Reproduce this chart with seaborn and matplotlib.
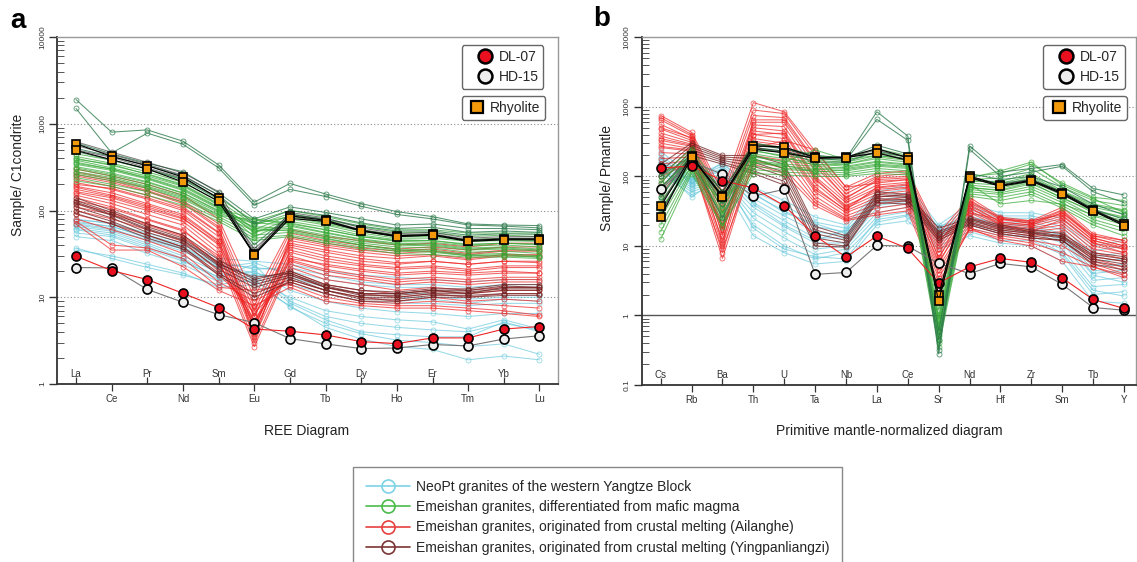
import numpy as np
import pandas as pd
import matplotlib
matplotlib.use("Agg")
import matplotlib.pyplot as plt
import seaborn as sns
from matplotlib.lines import Line2D
from matplotlib.ticker import FixedLocator, NullFormatter, FuncFormatter, LogLocator

sns.set_style("ticks")
plt.rcParams['font.family'] = ['Liberation Sans', 'DejaVu Sans']

# ---------------------------------------------------------------- data
REE = ["La", "Ce", "Pr", "Nd", "Sm", "Eu", "Gd", "Tb", "Dy", "Ho", "Er", "Tm", "Yb", "Lu"]
SPIDER = ["Cs", "Rb", "Ba", "Th", "U", "Ta", "Nb", "La", "Ce", "Sr", "Nd", "Hf", "Zr", "Sm", "Tb", "Y"]

# --- panel a : chondrite-normalised REE
ree_neopt = [
    [80, 70, 55, 42, 28, 26, 24, 20, 18, 17, 16, 15, 16, 16],
    [75, 65, 50, 38, 24, 22, 20, 16, 14, 13, 13, 12, 13, 13],
    [70, 62, 45, 34, 22, 18, 17, 13, 11, 10, 10, 9.5, 10, 10],
    [65, 58, 42, 30, 19, 16, 14, 11, 9, 8.5, 8.5, 8, 8.5, 8.5],
    [62, 55, 40, 28, 17, 20, 12, 9, 7.5, 6.8, 6.5, 6, 6.5, 6.5],
    [60, 52, 38, 27, 16, 15, 10, 7, 6, 5.5, 5.2, 4.3, 5.5, 4.3],
    [55, 50, 36, 26, 17, 24, 9, 6, 5, 4.5, 4.2, 4, 5, 4.2],
    [50, 45, 32, 24, 15, 18, 8.6, 5.5, 4, 3.7, 3.5, 3.5, 5.2, 4],
    [37, 28, 22, 18, 14, 16, 7.7, 5, 3.8, 3.2, 3, 2.7, 2.9, 2.2],
    [35, 30, 24, 19, 13, 14, 8, 4.5, 3.3, 2.7, 2.5, 1.9, 2.1, 1.9],
    [78, 72, 52, 40, 26, 21, 22, 18, 15, 14, 14, 13, 14, 14],
    [68, 60, 46, 36, 22, 25, 18, 14, 12, 11, 11, 10, 11, 11],
    [72, 66, 48, 37, 23, 19, 16, 12, 10, 9, 9.5, 8.5, 9.5, 9],
]
ree_mafic = [
    [450, 380, 300, 230, 140, 75, 100, 85, 70, 60, 60, 55, 55, 55],
    [420, 350, 280, 210, 130, 68, 92, 78, 65, 56, 56, 50, 52, 50],
    [400, 330, 265, 200, 120, 60, 88, 72, 60, 52, 52, 46, 48, 46],
    [380, 310, 250, 190, 115, 55, 80, 68, 55, 48, 48, 44, 45, 44],
    [360, 300, 240, 180, 110, 50, 75, 64, 52, 46, 45, 41, 42, 40],
    [340, 290, 230, 170, 105, 80, 72, 60, 50, 44, 43, 39, 40, 38],
    [320, 270, 215, 160, 100, 72, 68, 56, 47, 42, 41, 37, 38, 36],
    [300, 250, 200, 150, 95, 65, 62, 52, 44, 40, 39, 35, 36, 34],
    [280, 240, 190, 145, 90, 58, 60, 50, 42, 38, 37, 33, 34, 32],
    [260, 220, 180, 135, 85, 52, 56, 47, 40, 36, 35, 31, 32, 30],
    [240, 200, 165, 125, 80, 48, 52, 44, 38, 34, 33, 30, 30, 29],
    [220, 190, 150, 115, 75, 45, 50, 42, 36, 32, 31, 29, 29, 28],
    [390, 340, 260, 195, 118, 62, 58, 48, 40, 35, 34, 30, 31, 29],
    [350, 300, 235, 175, 108, 58, 66, 55, 46, 41, 40, 36, 37, 35],
    [310, 260, 210, 158, 98, 70, 85, 70, 58, 50, 50, 45, 46, 45],
    [270, 230, 185, 140, 88, 78, 70, 60, 50, 45, 45, 40, 42, 41],
]
ree_mafic_dark = [
    [1900, 800, 850, 630, 335, 125, 205, 155, 120, 97, 85, 70, 68, 67],
    [1500, 460, 780, 580, 310, 115, 175, 145, 112, 90, 80, 68, 66, 63],
    [600, 450, 350, 280, 160, 80, 110, 95, 80, 68, 70, 62, 62, 60],
    [520, 420, 330, 250, 150, 70, 100, 88, 72, 62, 64, 56, 58, 56],
    [480, 380, 300, 225, 135, 40, 90, 80, 66, 58, 58, 52, 54, 53],
]
ree_dark = [
    [620, 470, 360, 270, 165, 33, 95, 82, 63, 54, 56, 48, 50, 50],
    [560, 440, 340, 255, 150, 30, 90, 78, 60, 52, 54, 46, 48, 48],
    [500, 410, 310, 235, 140, 36, 86, 75, 58, 50, 52, 45, 47, 47],
]
ree_ailanghe = [
    [300, 250, 200, 150, 80, 10, 60, 50, 45, 40, 42, 38, 42, 42],
    [280, 230, 180, 130, 70, 8, 55, 45, 40, 36, 38, 35, 38, 38],
    [250, 210, 165, 120, 62, 7, 48, 40, 35, 32, 34, 31, 34, 34],
    [230, 190, 150, 110, 56, 6, 42, 35, 30, 28, 30, 27, 30, 30],
    [210, 175, 135, 100, 50, 5, 38, 30, 26, 24, 26, 24, 26, 26],
    [190, 160, 120, 90, 45, 4.5, 33, 26, 23, 21, 22, 20, 22, 22],
    [175, 145, 110, 82, 40, 4, 30, 23, 20, 18, 19, 18, 19, 19],
    [160, 130, 100, 75, 36, 3.5, 27, 21, 18, 16, 17, 16, 17, 17],
    [150, 120, 90, 68, 32, 3, 24, 18, 16, 14, 15, 14, 15, 15],
    [140, 110, 80, 60, 28, 2.7, 22, 16, 14, 12, 13, 12, 13, 13],
    [120, 95, 70, 52, 24, 5.5, 20, 14, 12, 11, 12, 11, 12, 12],
    [100, 80, 60, 44, 20, 6.5, 18, 13, 11, 10, 11, 10, 11, 11],
    [90, 70, 52, 38, 18, 7.5, 16, 12, 10, 9, 10, 9, 9.5, 9],
    [80, 60, 45, 32, 15, 9, 15, 11, 9, 8.5, 9, 8.5, 8, 7.5],
    [75, 40, 37, 28, 13, 12, 14, 10, 8.5, 8, 8, 7.5, 7, 6.2],
    [70, 35, 35, 22.5, 12, 8, 13, 9, 8, 7.5, 7.5, 7, 6.5, 6],
    [200, 180, 140, 105, 55, 4.2, 45, 38, 33, 30, 31, 28, 31, 31],
    [260, 220, 170, 125, 65, 3.2, 50, 42, 37, 34, 36, 32, 35, 35],
    [165, 140, 105, 80, 42, 3.8, 35, 28, 24, 22, 23, 21, 23, 23],
    [130, 105, 78, 58, 30, 5, 26, 20, 17, 15, 16, 15, 16, 16],
    [110, 90, 68, 50, 25, 4.8, 28, 24, 21, 19, 20, 19, 20, 19],
    [185, 150, 115, 86, 44, 6, 40, 33, 28, 25, 26, 24, 26, 25],
]
ree_yingpan = [
    [140, 100, 70, 52, 27, 16, 20, 14, 12, 11.5, 12.5, 12.5, 14, 14],
    [130, 95, 65, 48, 25, 15, 19, 13.5, 11, 11, 12, 12, 13.5, 13],
    [120, 88, 60, 45, 23, 14, 18, 13, 10.5, 10.5, 11.5, 11.5, 12.5, 12.5],
    [110, 82, 56, 42, 21, 13, 17, 12, 10, 10, 11, 11, 12, 12],
    [100, 75, 52, 38, 19, 11, 16, 12, 9.5, 9.5, 10.5, 10.5, 11, 11],
    [92, 70, 48, 36, 18, 10, 15, 11, 9, 9, 10, 10, 10.5, 10.5],
    [125, 90, 62, 46, 24, 17, 19, 13, 11, 11, 12, 11, 13, 13],
]
ree_rhyolite = [
    [588, 420, 328, 243, 138, 31.6, 87, 77, 59, 51, 53, 45, 47, 47],
    [492, 385, 301, 213, 127, 31, 81, 75, 58, 50, 52, 44, 46, 46],
]
ree_dl07 = [29.7, 20.3, 16, 11.1, 7.6, 4.3, 4.06, 3.68, 3.08, 2.92, 3.4, 3.4, 4.3, 4.6]
ree_hd15 = [22, 21.8, 12.3, 8.75, 6.3, 5.1, 3.34, 2.9, 2.56, 2.6, 2.85, 2.75, 3.3, 3.6]

# --- panel b : primitive-mantle normalised spider diagram
sp_neopt = [
    [230, 100, 150, 70, 45, 26, 20, 60, 75, 20, 40, 30, 30, 25, 10, 12],
    [200, 95, 140, 62, 38, 22, 18, 55, 66, 18, 36, 27, 27, 22, 8.5, 10],
    [180, 90, 130, 55, 32, 19, 16, 50, 58, 16, 33, 25, 25, 19, 7, 8],
    [160, 85, 120, 48, 27, 16, 14, 45, 52, 15, 30, 22, 22, 17, 6, 6.5],
    [150, 80, 110, 42, 23, 13, 13, 40, 46, 14, 27, 20, 20, 15, 5, 5.5],
    [140, 75, 100, 36, 19, 11, 11, 35, 41, 13, 24, 18, 18, 13, 4, 4.5],
    [130, 70, 95, 30, 16, 9, 10, 30, 36, 12, 21, 16, 16, 11, 3.2, 3.5],
    [125, 65, 90, 25, 13, 7.5, 9, 26, 31, 11, 18, 14, 14, 9, 2.6, 2.8],
    [120, 60, 85, 20, 10, 6.5, 8, 22, 27, 10, 16, 12, 12, 7.5, 2, 2.2],
    [110, 55, 80, 14, 8, 5.5, 6, 20, 23, 9, 14, 11, 10, 6, 1.6, 1.5],
    [135, 50, 105, 18, 9, 7, 6.5, 24, 28, 17, 20, 15, 13, 8, 2.3, 1.9],
    [190, 78, 160, 58, 30, 21, 15, 42, 48, 19, 26, 21, 19, 14, 4.5, 4],
    [165, 88, 125, 40, 20, 12, 17, 38, 44, 15, 25, 19, 17, 12, 3.8, 3],
]
sp_mafic = [
    [100, 250, 60, 300, 250, 200, 180, 250, 200, 1.5, 100, 110, 150, 80, 50, 45],
    [80, 230, 50, 260, 220, 180, 170, 220, 190, 1.2, 90, 95, 130, 70, 45, 38],
    [60, 210, 45, 230, 200, 170, 160, 200, 175, 1.0, 85, 85, 110, 62, 40, 33],
    [50, 190, 40, 210, 180, 160, 150, 180, 160, 0.85, 80, 75, 95, 58, 36, 29],
    [40, 175, 35, 190, 165, 150, 140, 165, 150, 0.7, 75, 68, 85, 54, 33, 26],
    [32, 160, 30, 170, 150, 140, 130, 150, 140, 0.6, 70, 62, 78, 50, 30, 23],
    [25, 145, 26, 155, 140, 130, 120, 140, 130, 0.5, 65, 58, 72, 46, 27, 20],
    [20, 130, 23, 140, 125, 120, 112, 130, 120, 0.45, 60, 55, 66, 42, 24, 18],
    [16, 120, 20, 125, 115, 110, 105, 120, 112, 0.4, 56, 50, 60, 38, 22, 16],
    [12.5, 110, 19, 110, 105, 100, 100, 110, 105, 0.35, 52, 45, 55, 35, 20, 14],
    [70, 180, 55, 200, 160, 240, 175, 200, 180, 0.9, 95, 120, 160, 75, 48, 30],
    [45, 150, 28, 180, 130, 125, 135, 160, 145, 0.55, 78, 40, 45, 40, 28, 22],
    [90, 200, 33, 240, 190, 145, 150, 190, 170, 0.75, 88, 80, 100, 60, 38, 32],
    [35, 135, 42, 160, 145, 115, 125, 145, 135, 0.65, 68, 64, 82, 48, 32, 25],
]
sp_mafic_dark = [
    [100, 200, 60, 280, 250, 190, 180, 850, 380, 0.32, 275, 115, 130, 148, 67, 54],
    [70, 190, 50, 260, 230, 180, 170, 660, 330, 0.28, 245, 100, 115, 140, 60, 42],
    [50, 210, 40, 300, 260, 200, 185, 280, 210, 0.6, 110, 90, 100, 70, 40, 28],
    [30, 180, 25, 250, 220, 160, 160, 230, 190, 0.45, 95, 80, 90, 60, 34, 24],
]
sp_dark = [
    [40, 210, 60, 290, 250, 185, 185, 240, 185, 1.8, 100, 76, 90, 60, 34, 21],
    [28, 195, 50, 260, 230, 180, 190, 220, 175, 1.6, 95, 72, 85, 55, 32, 20],
]
sp_ailanghe = [
    [750, 430, 60, 1150, 850, 230, 70, 110, 120, 15, 50, 26, 23, 36, 15, 12],
    [700, 400, 50, 900, 800, 200, 62, 100, 110, 13, 46, 25, 22, 33, 14, 11],
    [650, 380, 42, 750, 700, 170, 56, 95, 100, 11, 42, 24, 21, 30, 13, 10],
    [560, 350, 36, 600, 600, 140, 50, 85, 90, 10, 38, 22, 20, 27, 12, 9.5],
    [480, 330, 30, 550, 520, 120, 45, 75, 82, 9, 35, 21, 19, 25, 11, 9],
    [420, 310, 25, 500, 450, 100, 42, 68, 75, 8, 32, 20, 18, 22, 10, 8],
    [380, 290, 20, 450, 400, 90, 38, 60, 68, 7, 30, 19, 17, 20, 9, 7.5],
    [330, 270, 17, 400, 350, 80, 35, 55, 62, 6, 27, 18, 16, 18, 8, 6.5],
    [300, 250, 15, 350, 300, 70, 32, 50, 56, 5, 25, 17, 15, 16, 7, 6],
    [260, 230, 12, 300, 260, 60, 30, 45, 50, 4.5, 22, 16, 14, 14, 6.5, 5],
    [220, 210, 10, 250, 220, 52, 27, 40, 45, 4, 20, 15, 13, 12, 6, 4.5],
    [180, 190, 8, 200, 170, 46, 25, 35, 40, 3.5, 18, 14, 12, 10, 5.5, 4],
    [150, 170, 6.6, 170, 130, 42, 24, 30, 36, 3, 17, 13, 11, 8, 5, 3.5],
    [120, 150, 9, 150, 110, 38, 23, 28, 32, 2.5, 18, 12, 10, 6, 5, 3.8],
    [100, 160, 20, 250, 330, 240, 70, 80, 90, 2, 40, 22, 20, 30, 14, 12],
    [500, 360, 14, 650, 650, 160, 48, 90, 95, 6.5, 44, 25, 21, 32, 13, 10],
    [350, 280, 11, 400, 420, 95, 36, 65, 70, 5.5, 36, 20, 16, 24, 11, 8],
    [270, 240, 18, 320, 280, 65, 33, 70, 78, 12, 30, 24, 23, 28, 12, 9],
]
sp_yingpan = [
    [150, 300, 200, 200, 150, 19, 14, 60, 55, 18, 25, 20, 17, 15, 8, 7],
    [120, 280, 190, 180, 130, 17, 13, 55, 52, 16, 24, 19, 16, 14, 7.5, 6.5],
    [100, 260, 180, 160, 115, 15, 12, 52, 50, 15, 23, 18, 15.5, 13.5, 7, 6],
    [80, 240, 170, 140, 100, 13, 11, 48, 46, 14, 22, 17, 15, 13, 6.5, 5.5],
    [65, 220, 160, 120, 85, 11, 10, 45, 44, 13, 21, 16, 14, 12, 6, 5],
    [55, 200, 150, 110, 75, 10, 9.6, 42, 40, 12, 20, 15, 13, 12, 5.5, 4.5],
]
sp_rhyolite = [
    [37, 197, 52, 274, 265, 187, 190, 250, 187, 1.96, 101, 74, 88, 58, 33, 20.5],
    [26, 190, 50, 246, 218, 182, 186, 217, 170, 1.6, 96, 72, 86, 56, 32, 19.5],
]
sp_dl07 = [132, 141, 87, 68, 38, 14, 6.9, 13.9, 9.2, 2.94, 5.0, 6.6, 5.8, 3.47, 1.7, 1.26]
sp_hd15 = [65, 163, 107, 52, 65, 3.9, 4.15, 10.2, 9.9, 5.6, 4.0, 5.6, 5.0, 2.8, 1.3, 1.19]

GROUP_LABELS = [
    "NeoPt granites of the western Yangtze Block",
    "Emeishan granites, differentiated from mafic magma",
    "Emeishan granites, originated from crustal melting (Ailanghe)",
    "Emeishan granites, originated from crustal melting (Yingpanliangzi)",
]

# ---------------------------------------------------------------- styles
C_CYAN = "#62c6da"
C_GREEN = "#34a834"
C_DGREEN = "#2d7a4c"
C_RED = "#ee2424"
C_MAROON = "#6e2222"
C_DARK = "#2a2a2a"
C_ORANGE = "#f39a0c"
W, H = 1137, 562


def to_long(rows):
    recs = []
    for i, row in enumerate(rows):
        for j, v in enumerate(row):
            recs.append((i, j, v))
    return pd.DataFrame(recs, columns=["sample", "pos", "value"])


def draw_group(ax, rows, color, alpha, z, lw=0.75, ms=3.6):
    df = to_long(rows)
    sns.lineplot(data=df, x="pos", y="value", units="sample", estimator=None,
                 sort=False, ax=ax, color=color, alpha=alpha, lw=lw,
                 marker="o", markersize=ms, markerfacecolor="none",
                 markeredgecolor=color, markeredgewidth=0.6,
                 legend=False, zorder=z)


def draw_sample(ax, values, lcolor, fcolor, marker, ms, z):
    df = pd.DataFrame({"pos": np.arange(len(values)), "value": values})
    sns.lineplot(data=df, x="pos", y="value", estimator=None, sort=False, ax=ax,
                 color=lcolor, lw=0.8, marker=marker, markersize=ms,
                 markerfacecolor=fcolor, markeredgecolor="black",
                 markeredgewidth=1.2, legend=False, zorder=z)


def style_axes(ax, elements, ylo, yhi, xlim, solid_one=False):
    ax.set_yscale("log")
    ax.set_ylim(ylo, yhi)
    ax.set_xlim(*xlim)
    majors = [10.0 ** k for k in range(int(np.log10(ylo)), int(np.log10(yhi)) + 1)]
    ax.yaxis.set_major_locator(FixedLocator(majors))
    ax.yaxis.set_minor_locator(LogLocator(base=10, subs=np.arange(2, 10), numticks=30))
    ax.yaxis.set_major_formatter(FuncFormatter(lambda v, p: f"{v:g}"))
    ax.yaxis.set_minor_formatter(NullFormatter())
    ax.tick_params(axis="y", which="major", direction="out", length=6, width=1.0,
                   pad=2, labelsize=6, labelrotation=90, colors="#333333")
    ax.tick_params(axis="y", which="minor", direction="in", length=5, width=0.7,
                   colors="#555555")
    for lab in ax.get_yticklabels():
        lab.set_va("center")
    n = len(elements)
    odd = list(range(1, n, 2))
    even = list(range(0, n, 2))
    ax.set_xticks(odd, [elements[i] for i in odd])
    ax.set_xticks(even, [elements[i] for i in even], minor=True)
    ax.tick_params(axis="x", which="major", direction="out", length=5, width=0.9,
                   pad=2.5, labelsize=7, colors="#333333")
    ax.tick_params(axis="x", which="minor", direction="in", length=5, width=0.9,
                   pad=-11, labelsize=7, colors="#333333")
    for v in [10, 100, 1000]:
        ax.axhline(v, color="#888888", lw=0.8, ls=(0, (1, 2)), zorder=0.5)
    if solid_one:
        ax.axhline(1, color="#555555", lw=1.0, zorder=0.5)
    for s in ["left", "bottom"]:
        ax.spines[s].set_color("#333333")
        ax.spines[s].set_linewidth(1.3)
    for s in ["top", "right"]:
        ax.spines[s].set_color("#999999")
        ax.spines[s].set_linewidth(1.0)
    ax.set_xlabel("")
    ax.set_ylabel("")


def sample_legends(ax, x0, y_top1, y_top2):
    h1 = [Line2D([], [], ls="none", marker="o", markersize=10, markerfacecolor="#e8101e",
                 markeredgecolor="black", markeredgewidth=1.8),
          Line2D([], [], ls="none", marker="o", markersize=10, markerfacecolor="#eeeeee",
                 markeredgecolor="black", markeredgewidth=1.8)]
    leg1 = ax.legend(h1, ["DL-07", "HD-15"], loc="upper left", bbox_to_anchor=(x0, y_top1),
                     borderaxespad=0, fontsize=10, handlelength=2.6, handletextpad=-0.3,
                     borderpad=0.35, labelspacing=0.45, fancybox=True,
                     edgecolor="#666666", framealpha=1)
    leg1.get_frame().set_linewidth(1.0)
    leg1.set_zorder(20)
    ax.add_artist(leg1)
    h2 = [Line2D([], [], ls="none", marker="s", markersize=8, markerfacecolor=C_ORANGE,
                 markeredgecolor="black", markeredgewidth=1.6)]
    leg2 = ax.legend(h2, ["Rhyolite"], loc="upper left", bbox_to_anchor=(x0, y_top2),
                     borderaxespad=0, fontsize=10, handlelength=1.55, handletextpad=0.15,
                     borderpad=0.35, fancybox=True, edgecolor="#666666", framealpha=1)
    leg2.get_frame().set_linewidth(1.0)
    leg2.set_zorder(20)


# ---------------------------------------------------------------- figure
fig = plt.figure(figsize=(W / 100, H / 100), dpi=100)
ax_a = fig.add_axes([57.3 / W, 1 - 384 / H, (558 - 57.3) / W, (384 - 37) / H])
ax_b = fig.add_axes([641.7 / W, 1 - 385 / H, (1136 - 641.7) / W, (385 - 37.3) / H])

# panel a
draw_group(ax_a, ree_neopt, C_CYAN, 0.65, 2)
draw_group(ax_a, ree_ailanghe, C_RED, 0.7, 3)
draw_group(ax_a, ree_yingpan, C_MAROON, 0.75, 3.5)
draw_group(ax_a, ree_mafic, C_GREEN, 0.7, 4)
draw_group(ax_a, ree_mafic_dark, C_DGREEN, 0.8, 4.5)
draw_group(ax_a, ree_dark, C_DARK, 0.6, 5)
draw_sample(ax_a, ree_hd15, "#777777", "#eeeeee", "o", 6.5, 7)
draw_sample(ax_a, ree_dl07, C_RED, "#e8101e", "o", 6.5, 7.5)
for r in ree_rhyolite:
    draw_sample(ax_a, r, "black", C_ORANGE, "s", 6.0, 8)
style_axes(ax_a, REE, 1, 10000, (-0.525, 13.52))
sample_legends(ax_a, (461.7 - 57.3) / 500.7, (384 - 45) / 347, (384 - 96) / 347)

# panel b
draw_group(ax_b, sp_neopt, C_CYAN, 0.65, 2)
draw_group(ax_b, sp_ailanghe, C_RED, 0.7, 3)
draw_group(ax_b, sp_yingpan, C_MAROON, 0.75, 3.5)
draw_group(ax_b, sp_mafic, C_GREEN, 0.7, 4)
draw_group(ax_b, sp_mafic_dark, C_DGREEN, 0.8, 4.5)
draw_group(ax_b, sp_dark, C_DARK, 0.6, 5)
draw_sample(ax_b, sp_hd15, "#777777", "#eeeeee", "o", 6.5, 7)
draw_sample(ax_b, sp_dl07, C_RED, "#e8101e", "o", 6.5, 7.5)
for r in sp_rhyolite:
    draw_sample(ax_b, r, "black", C_ORANGE, "s", 6.0, 8)
style_axes(ax_b, SPIDER, 0.1, 10000, (-0.615, 15.39), solid_one=True)
sample_legends(ax_b, (1043.3 - 641.7) / 494.3, (385 - 45) / 347.7, (385 - 96) / 347.7)

# texts
fig.text(18 / W, 1 - 175 / H, "Sample/ C1condrite", rotation=90, ha="center", va="center",
         fontsize=10, color="#222222")
fig.text(607 / W, 1 - 177.5 / H, "Sample/ Pmantle", rotation=90, ha="center", va="center",
         fontsize=10, color="#222222")
fig.text(307 / W, 1 - 431 / H, "REE Diagram", ha="center", va="center", fontsize=10,
         color="#222222")
fig.text(889 / W, 1 - 431 / H, "Primitive mantle-normalized diagram", ha="center",
         va="center", fontsize=10, color="#222222")
fig.text(18 / W, 1 - 21 / H, "a", ha="center", va="center", fontsize=20,
         fontweight="bold", color="black")
fig.text(602 / W, 1 - 19 / H, "b", ha="center", va="center", fontsize=20,
         fontweight="bold", color="black")

# bottom legend
group_colors = ["#7dd3e6", "#4cbb4c", "#e8403f", "#7a3535"]
handles = [Line2D([], [], color=c, lw=1.2, marker="o", markersize=9.4,
                  markerfacecolor="none", markeredgecolor=c, markeredgewidth=1.2)
           for c in group_colors]
bl = fig.legend(handles, GROUP_LABELS, loc="upper left",
                bbox_to_anchor=(353.3 / W, 1 - 466.7 / H), borderaxespad=0,
                fontsize=10, handlelength=3.1, handletextpad=0.45, labelspacing=0.45,
                borderpad=0.95, fancybox=False, edgecolor="#888888", framealpha=1)
bl.get_frame().set_linewidth(1.0)

fig.savefig("out.png", dpi=100)
